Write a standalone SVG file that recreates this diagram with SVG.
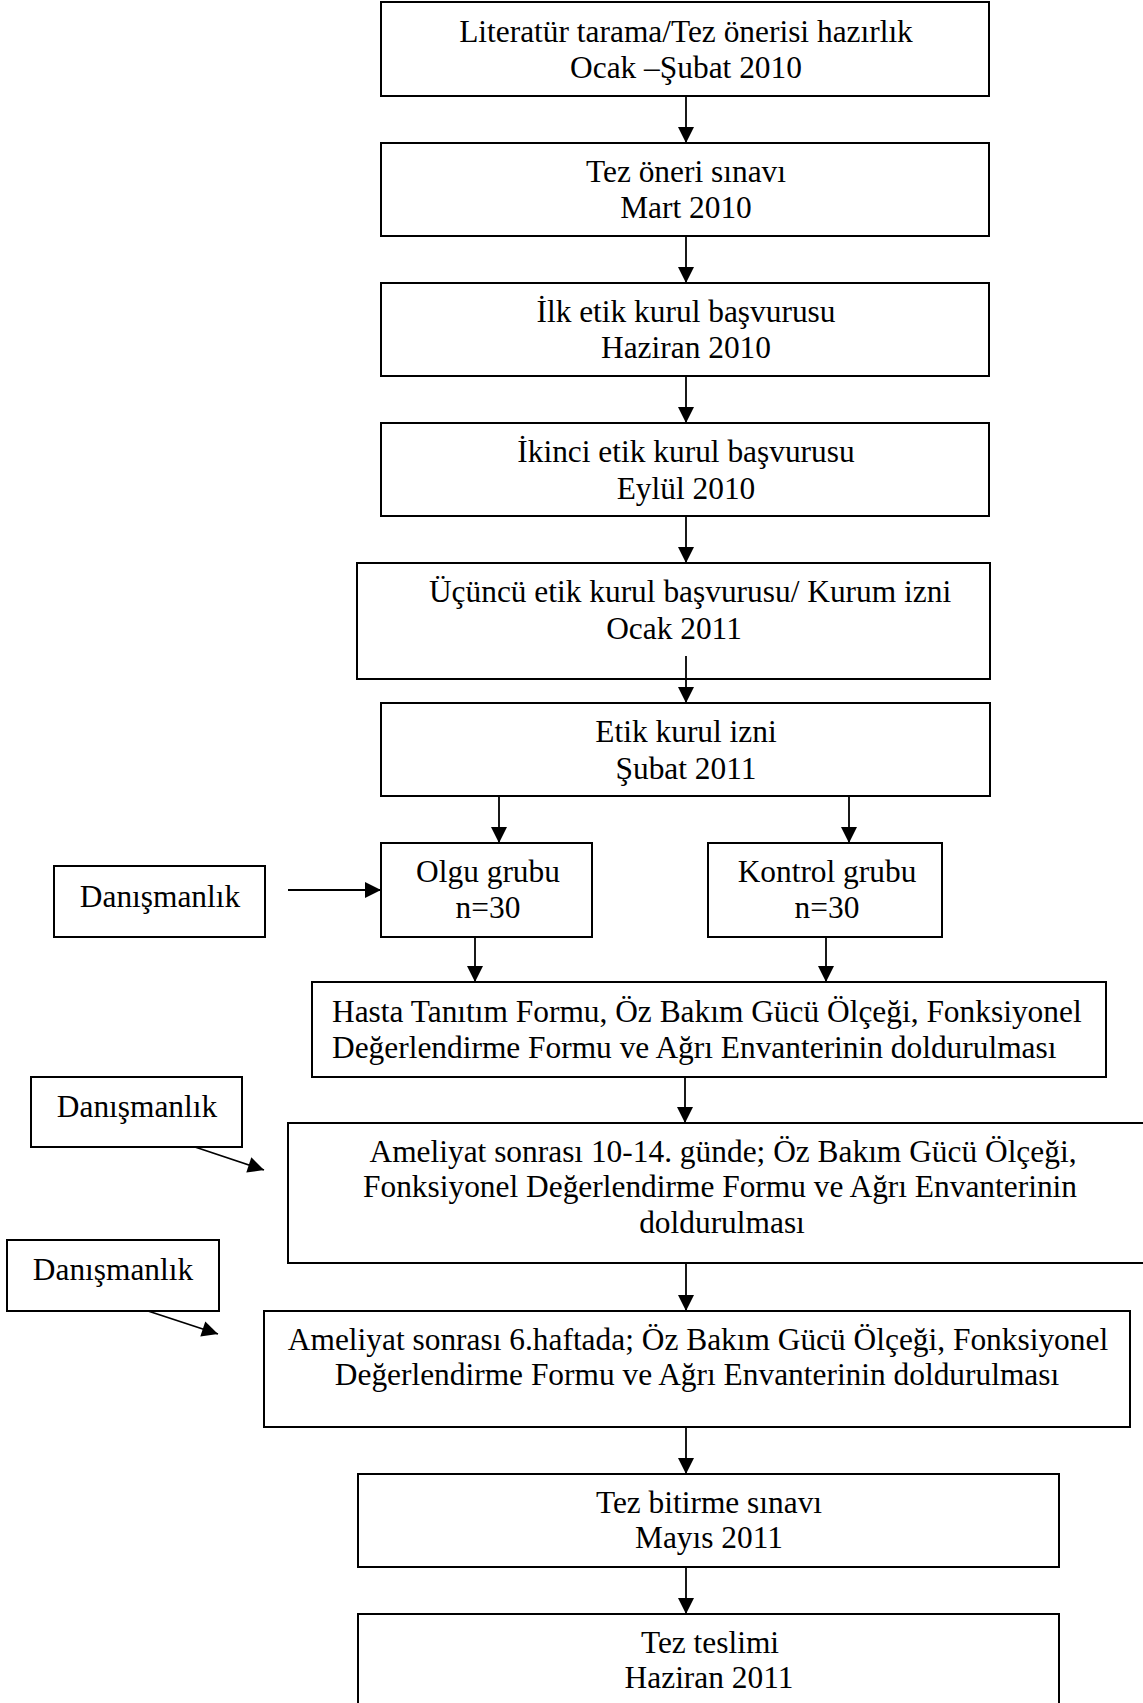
<svg xmlns="http://www.w3.org/2000/svg" width="1143" height="1703" viewBox="0 0 1143 1703">
<style>
  .box { fill: #ffffff; stroke: #000000; stroke-width: 2; }
  .t { font-family: "Liberation Serif", "Times New Roman", serif; font-size: 31.4px; fill: #000000; }
  .m { text-anchor: middle; }
  .c { fill: none; stroke: #000000; stroke-width: 1.8; }
</style>
<defs>
  <marker id="ah" markerUnits="userSpaceOnUse" markerWidth="18" markerHeight="18" refX="16" refY="8" orient="auto" overflow="visible">
    <path d="M0,0 L16,8 L0,16 Z" fill="#000000"/>
  </marker>
</defs>
<rect width="1143" height="1703" fill="#ffffff"/>

<g id="n1"><rect class="box" x="381" y="2" width="608" height="94"/>
<text class="t m" x="686" y="42">Literatür tarama/Tez önerisi hazırlık</text>
<text class="t m" x="686" y="78">Ocak –Şubat 2010</text></g>

<g id="n2"><rect class="box" x="381" y="143" width="608" height="93"/>
<text class="t m" x="686" y="182">Tez öneri sınavı</text>
<text class="t m" x="686" y="218">Mart 2010</text></g>

<g id="n3"><rect class="box" x="381" y="283" width="608" height="93"/>
<text class="t m" x="686" y="322">İlk etik kurul başvurusu</text>
<text class="t m" x="686" y="358">Haziran 2010</text></g>

<g id="n4"><rect class="box" x="381" y="423" width="608" height="93"/>
<text class="t m" x="686" y="462">İkinci etik kurul başvurusu</text>
<text class="t m" x="686" y="499">Eylül 2010</text></g>

<g id="n5"><rect class="box" x="357" y="563" width="633" height="116"/>
<text class="t m" x="690" y="602">Üçüncü etik kurul başvurusu/ Kurum izni</text>
<text class="t m" x="674" y="639">Ocak 2011</text></g>

<g id="n6"><rect class="box" x="381" y="703" width="609" height="93"/>
<text class="t m" x="686" y="742">Etik kurul izni</text>
<text class="t m" x="686" y="779">Şubat 2011</text></g>

<g id="olgu"><rect class="box" x="381" y="843" width="211" height="94"/>
<text class="t m" x="488" y="882">Olgu grubu</text>
<text class="t m" x="488" y="918">n=30</text></g>

<g id="kontrol"><rect class="box" x="708" y="843" width="234" height="94"/>
<text class="t m" x="827" y="882">Kontrol grubu</text>
<text class="t m" x="827" y="918">n=30</text></g>

<g id="danis1"><rect class="box" x="54" y="866" width="211" height="71"/>
<text class="t m" x="160" y="907">Danışmanlık</text></g>

<g id="hasta"><rect class="box" x="312" y="982" width="794" height="95"/>
<text class="t" x="332" y="1022">Hasta Tanıtım Formu, Öz Bakım Gücü Ölçeği, Fonksiyonel</text>
<text class="t" x="332" y="1058">Değerlendirme Formu ve Ağrı Envanterinin doldurulması</text></g>

<g id="danis2"><rect class="box" x="31" y="1077" width="211" height="70"/>
<text class="t m" x="137" y="1117">Danışmanlık</text></g>

<g id="amel1"><rect class="box" x="288" y="1123" width="880" height="140"/>
<text class="t m" x="723" y="1162">Ameliyat sonrası 10-14. günde; Öz Bakım Gücü Ölçeği,</text>
<text class="t m" x="720" y="1197">Fonksiyonel Değerlendirme Formu ve Ağrı Envanterinin</text>
<text class="t m" x="722" y="1233">doldurulması</text></g>

<g id="danis3"><rect class="box" x="7" y="1240" width="212" height="71"/>
<text class="t m" x="113" y="1280">Danışmanlık</text></g>

<g id="amel2"><rect class="box" x="264" y="1311" width="866" height="116"/>
<text class="t m" x="698" y="1350">Ameliyat sonrası 6.haftada; Öz Bakım Gücü Ölçeği, Fonksiyonel</text>
<text class="t m" x="697" y="1385">Değerlendirme Formu ve Ağrı Envanterinin doldurulması</text></g>

<g id="bitirme"><rect class="box" x="358" y="1474" width="701" height="93"/>
<text class="t m" x="709" y="1513">Tez bitirme sınavı</text>
<text class="t m" x="709" y="1548">Mayıs 2011</text></g>

<g id="teslim"><rect class="box" x="358" y="1614" width="701" height="110"/>
<text class="t m" x="710" y="1653">Tez teslimi</text>
<text class="t m" x="709" y="1688">Haziran 2011</text></g>

<g id="connectors">
  <line class="c" x1="686" y1="96" x2="686" y2="143" marker-end="url(#ah)"/>
  <line class="c" x1="686" y1="236" x2="686" y2="283" marker-end="url(#ah)"/>
  <line class="c" x1="686" y1="376" x2="686" y2="423" marker-end="url(#ah)"/>
  <line class="c" x1="686" y1="516" x2="686" y2="563" marker-end="url(#ah)"/>
  <line class="c" x1="686" y1="656" x2="686" y2="703" marker-end="url(#ah)"/>
  <line class="c" x1="499" y1="796" x2="499" y2="843" marker-end="url(#ah)"/>
  <line class="c" x1="849" y1="796" x2="849" y2="843" marker-end="url(#ah)"/>
  <line class="c" x1="288" y1="890" x2="381" y2="890" marker-end="url(#ah)"/>
  <line class="c" x1="475" y1="937" x2="475" y2="982" marker-end="url(#ah)"/>
  <line class="c" x1="826" y1="937" x2="826" y2="982" marker-end="url(#ah)"/>
  <line class="c" x1="685" y1="1077" x2="685" y2="1123" marker-end="url(#ah)"/>
  <line class="c" x1="195" y1="1147" x2="264" y2="1170" marker-end="url(#ah)"/>
  <line class="c" x1="686" y1="1263" x2="686" y2="1311" marker-end="url(#ah)"/>
  <line class="c" x1="148" y1="1311" x2="218" y2="1334" marker-end="url(#ah)"/>
  <line class="c" x1="686" y1="1427" x2="686" y2="1474" marker-end="url(#ah)"/>
  <line class="c" x1="686" y1="1567" x2="686" y2="1614" marker-end="url(#ah)"/>
</g>
</svg>
